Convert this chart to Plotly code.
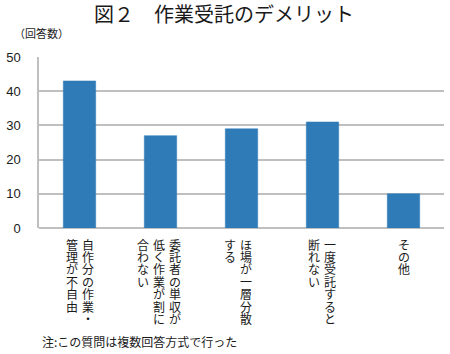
import plotly.graph_objects as go

# ---- data ----
categories = ["自作分の作業・管理が不自由", "委託者の単収が低く作業が割に合わない",
              "ほ場が一層分散する", "一度受託すると断れない", "その他"]
label_columns = [["自作分の作業・", "管理が不自由"],
                 ["委託者の単収が", "低く作業が割に", "合わない"],
                 ["ほ場が一層分散", "する"],
                 ["一度受託すると", "断れない"],
                 ["その他"]]
values = [43, 27, 29, 31, 10]
y_ticks = [0, 10, 20, 30, 40, 50]

title_text = "図２　作業受託のデメリット"
y_unit = "（回答数）"
note_text = "注:この質問は複数回答方式で行った"

# ---- style ----
FONT = "Noto Sans CJK JP"
BAR_COLOR = "#2E7BB8"
GRID = "#BFBFBF"
COL_PITCH = 16
CHAR_PITCH = 12.4
block_shift = [0, -2, -4, -1, 0]

fig = go.Figure()
fig.add_trace(go.Bar(x=categories, y=values, marker=dict(color=BAR_COLOR, line=dict(color=BAR_COLOR, width=0.5)),
                     width=0.4))

L, R, T, B = 28, 6, 57, 126
W, H = 450, 354
pw, ph = W - L - R, H - T - B
def px_to_paper(x, y):
    return (x - L) / pw, (H - B - y) / ph

annotations = []
for ci, cols in enumerate(label_columns):
    n = len(cols)
    for k, col in enumerate(cols):
        xoff = ((n - 1) / 2 - k) * COL_PITCH + block_shift[ci]
        for i, ch in enumerate(col):
            annotations.append(dict(
                x=categories[ci], xref="x", y=0, yref="paper",
                text=ch, showarrow=False, xanchor="center", yanchor="middle",
                xshift=xoff, yshift=-(16 + CHAR_PITCH * i),
                font=dict(family=FONT, size=12, color="#1a1a1a")))

ax, ay = px_to_paper(218, 14)
annotations.append(dict(x=ax, y=ay, xref="paper", yref="paper", text=title_text, showarrow=False,
                        xanchor="center", yanchor="middle",
                        font=dict(family=FONT, size=20, color="#1a1a1a")))
ax, ay = px_to_paper(0, 33)
annotations.append(dict(x=ax, y=ay, text=y_unit, showarrow=False, xref="paper", yref="paper",
                        xanchor="left", yanchor="middle",
                        font=dict(family=FONT, size=11, color="#1a1a1a")))
ax, ay = px_to_paper(29, 341)
annotations.append(dict(x=ax, y=ay, text=note_text, showarrow=False, xref="paper", yref="paper",
                        xanchor="left", yanchor="middle",
                        font=dict(family=FONT, size=12, color="#1a1a1a")))

fig.update_layout(
    width=W, height=H,
    margin=dict(l=L, r=R, t=T, b=B),
    paper_bgcolor="white", plot_bgcolor="white",
    showlegend=False,
    bargap=0.6,
    annotations=annotations,
    font=dict(family=FONT, size=12, color="#1a1a1a"),
)
fig.update_xaxes(showticklabels=False, showgrid=False, zeroline=False,
                 showline=False, ticks="")
fig.update_yaxes(range=[0, 50], tickvals=y_ticks, showgrid=True, gridcolor=GRID, gridwidth=1.5,
                 zeroline=True, zerolinecolor=GRID, zerolinewidth=1.5,
                 showline=True, linecolor=GRID, linewidth=1.5,
                 ticks="", ticklabelstandoff=14,
                 tickfont=dict(family="Liberation Sans", size=13, color="#1a1a1a"))

fig.write_html("out.html")
